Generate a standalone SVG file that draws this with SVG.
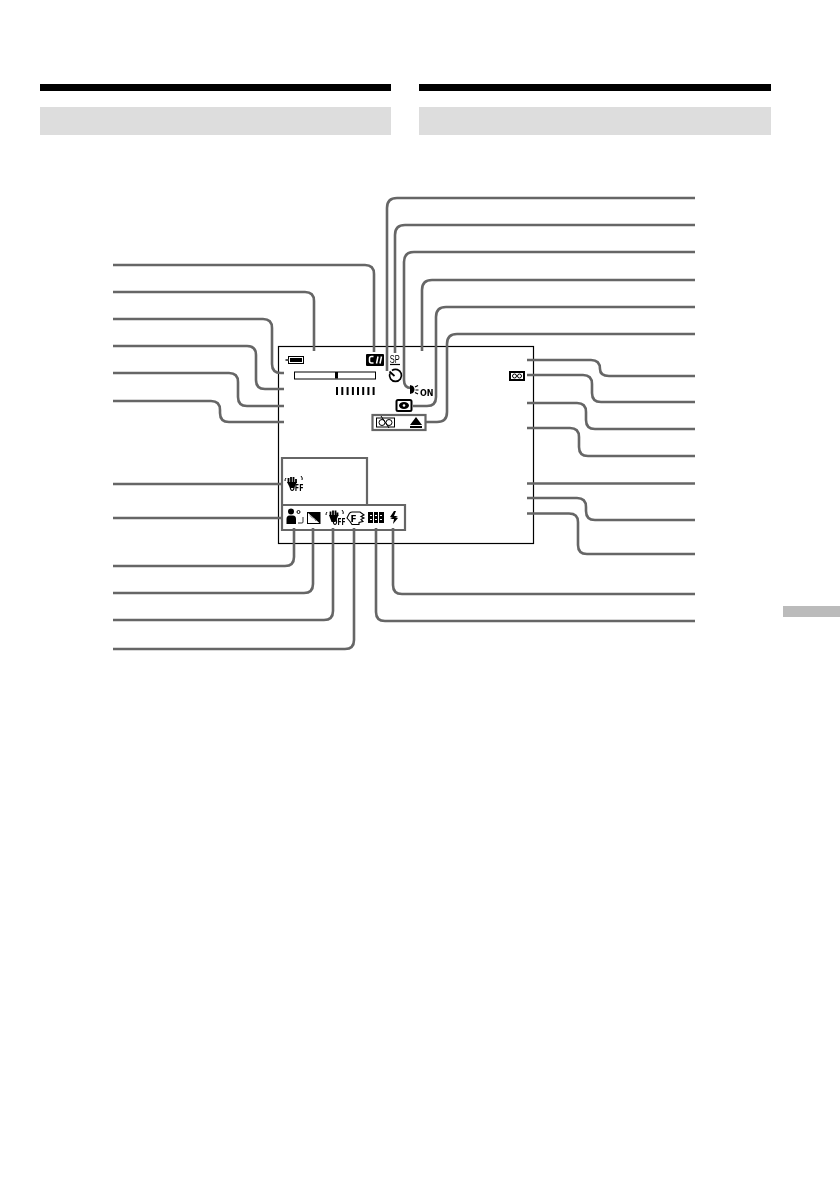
<svg xmlns="http://www.w3.org/2000/svg" width="840" height="1190" viewBox="0 0 840 1190">
<style>
.c{fill:none;stroke:#666;stroke-width:2.6}
.b{fill:none;stroke:#666;stroke-width:2.2}
.t{font-family:"DejaVu Sans","Liberation Sans",sans-serif;font-weight:bold;fill:#000}
.k{fill:none;stroke:#000}
</style>
<defs><filter id="g" x="-20%" y="-20%" width="140%" height="140%"><feOffset dx="0" dy="0"/></filter></defs>
<rect width="840" height="1190" fill="#fff"/>
<g id="header-left"><rect x="40" y="84" width="351" height="7" fill="#000"/><rect x="40" y="107" width="351" height="28" fill="#ddd"/></g>
<g id="header-right"><rect x="419" y="84" width="352" height="7" fill="#000"/><rect x="419" y="107" width="352" height="28" fill="#ddd"/></g>
<g id="side-tab"><rect x="783" y="606" width="57" height="11" fill="#bbb"/></g>
<g id="screen"><rect x="278.500" y="346.500" width="255" height="197" fill="none" stroke="#000" stroke-width="1.200"/></g>
<g id="connectors">
<path class="c" d="M113 265H365Q374 265 374 274V352"/>
<path class="c" d="M113 292H305Q314 292 314 301V351"/>
<path class="c" d="M113 319H263Q272 319 272 328V364Q272 373 281 373H284"/>
<path class="c" d="M113 346H247Q256 346 256 355V380Q256 389 265 389H284"/>
<path class="c" d="M113 373H229Q238 373 238 382V397Q238 406 247 406H284"/>
<path class="c" d="M113 401H211Q220 401 220 410V413Q220 422 229 422H284"/>
<path class="c" d="M113 484H281"/>
<path class="c" d="M113 518H282"/>
<path class="c" d="M113 566H285Q294 566 294 557V528"/>
<path class="c" d="M113 593H304Q313 593 313 584V528"/>
<path class="c" d="M113 620H324Q333 620 333 611V528"/>
<path class="c" d="M113 649H345Q354 649 354 640V528"/>
<path class="c" d="M695 198H397Q387 198 387 208V371"/>
<path class="c" d="M695 225H405Q395 225 395 235V353"/>
<path class="c" d="M695 252H414Q404 252 404 262V380Q404 388 411 388"/>
<path class="c" d="M695 280H432Q422 280 422 290V351"/>
<path class="c" d="M695 307H446Q436 307 436 317V397Q436 406 427 406H413"/>
<path class="c" d="M695 334H457Q447 334 447 344V412Q447 422 437 422H426"/>
<path class="c" d="M527 360H591Q600 360 600 369Q600 376 609 376H695"/>
<path class="c" d="M527 375H583Q592 375 592 384V393Q592 402 601 402H695"/>
<path class="c" d="M527 403H577Q586 403 586 412V420Q586 429 595 429H695"/>
<path class="c" d="M527 428H570Q579 428 579 437V447Q579 456 588 456H695"/>
<path class="c" d="M527 483.500H695"/>
<path class="c" d="M527 498H577Q586 498 586 507V511Q586 520 595 520H695"/>
<path class="c" d="M527 513.500H569Q578 513.500 578 522V545Q578 554 587 554H695"/>
<path class="c" d="M695 594H402Q393 594 393 585V528"/>
<path class="c" d="M695 621H385Q376 621 376 612V528"/>
</g>
<g id="box-top"><rect x="372.500" y="415" width="53" height="15" class="b"/></g>
<g id="box-lower"><path class="b" d="M367 505V458H282V530H405V505H282"/></g>
<g id="battery"><rect x="288.500" y="356.500" width="15" height="7" fill="#fff" stroke="#000"/><rect x="290" y="358" width="12" height="4" fill="#000"/><rect x="285.500" y="359" width="3" height="2" fill="#555"/></g>
<g id="zoom-bar"><rect x="294.500" y="372" width="81" height="7" fill="#fff" stroke="#000"/><rect x="335" y="372" width="3" height="6.500" fill="#000"/></g>
<g id="ticks"><path stroke="#000" stroke-width="2" d="M337 387v8M342.300 387v8M347.600 387v8M352.900 387v8M358 387v8M363.200 387v8M368.400 387v8M373.600 387v8"/></g>
<g id="cinema"><rect x="366" y="354" width="18" height="12" rx="1" fill="#000"/><path d="M373.500 356.500h-2q-2 0-2 2v2.500q0 2 2 2h2M376.500 363.500l1.500-7M380 363.500l1.500-7" fill="none" stroke="#fff" stroke-width="1.500"/></g>
<g id="sp" filter="url(#g)"><text x="394.700" y="362.500" font-size="11" text-anchor="middle" textLength="10" lengthAdjust="spacingAndGlyphs" style="font-family:'Liberation Sans',sans-serif;fill:#000">SP</text><path d="M390 364.500h10" stroke="#000" stroke-width="1.200"/></g>
<g id="timer"><path class="k" stroke-width="1.700" d="M392 370.500A6 6 0 1 1 389.800 373.500M394.500 376l-5-4.500"/></g>
<g id="steady-on" filter="url(#g)"><path d="M410 385v9l3-1q3-3.500 0-7z" fill="#000"/><path d="M415 387l3-1.500M415.500 390h3M415 392.500l3 1.500" stroke="#000" stroke-width="1.200"/><text class="t" x="420" y="395.500" font-size="8">ON</text></g>
<g id="eye"><rect x="396.500" y="400" width="15" height="11" rx="1.500" fill="#fff" stroke="#000" stroke-width="2"/><ellipse cx="404" cy="405.500" rx="5" ry="3.500" fill="#000"/><circle cx="404" cy="405.500" r="1.300" fill="#fff"/></g>
<g id="tape-icon"><rect x="376.500" y="418" width="18" height="9" fill="none" stroke="#000"/><circle cx="382" cy="422.500" r="3" class="k"/><circle cx="389" cy="422.500" r="3" class="k"/><path d="M381 416l8 12" stroke="#000"/></g>
<g id="eject"><path d="M410 425l6-8 6 8z" fill="#000"/><rect x="410" y="426" width="12" height="2" fill="#000"/></g>
<g id="cassette"><rect x="510" y="372" width="14" height="8" fill="#fff" stroke="#000" stroke-width="2"/><circle cx="514.500" cy="376" r="2" class="k"/><circle cx="519.500" cy="376" r="2" class="k"/></g>
<g id="steady-off-a" filter="url(#g)"><path d="M288.500 483v-5M291 483v-6M293.500 483v-6M296 483v-4" stroke="#000" stroke-width="1.800"/><path d="M287 482h10l-3 6h-4z" fill="#000"/><path class="k" d="M286 478q-1 1-1 3M301 476q2 2 1 4"/><text class="t" x="289.500" y="490.500" font-size="8.500" textLength="14" lengthAdjust="spacingAndGlyphs">OFF</text></g>
<g id="portrait"><circle cx="291" cy="511.500" r="3" fill="#000"/><path d="M286.500 524v-5q0-3.500 3-3.500h3.500q3 0 3 3.500v5z" fill="#000"/><circle cx="298.500" cy="512" r="1.500" class="k"/><path class="k" d="M298 523h4q1 0 1-1v-5" stroke-width=".8"/></g>
<g id="exposure"><rect x="307.500" y="512.500" width="12.500" height="11" fill="#fff" stroke="#000"/><path d="M307.500 512.500h12.500v11z" fill="#000"/><path d="M310 515.500l3 3M316 521l-2-3" stroke="#777"/></g>
<g id="steady-off-b" filter="url(#g)"><path d="M330.500 516v-4.500M333 516v-5.500M335.500 516v-5.500M337.500 516v-3.500" stroke="#000" stroke-width="1.800"/><path d="M329 515h9.500l-3 7h-4z" fill="#000"/><path class="k" d="M327 512q-1 1-1 3M342 510q2 2 1 4"/><text class="t" x="332.500" y="524.500" font-size="8.500" textLength="13" lengthAdjust="spacingAndGlyphs">OFF</text></g>
<g id="fade" filter="url(#g)"><path class="k" d="M347 518l2-4q1-2 3-2h8l4 3-3 1.500 3 1.500-3 1.500 2 2-4 1v2h-7l-2-3z" stroke-width="1.100"/><text class="t" x="350.500" y="522" font-size="9">F</text></g>
<g id="grid"><rect x="368" y="512" width="16" height="11" fill="#000"/><path d="M373.500 512v11M378.500 512v11" stroke="#fff" stroke-width="1"/><path d="M370 515.500h2M375 515.500h2M380 515.500h2M370 519.500h2M375 519.500h2M380 519.500h2" stroke="#fff" stroke-width="1"/></g>
<g id="flash"><path d="M394 511l-4 6h3l-3 1 2 1h2l-1 5 5-6h-3l3-1-2-1h-2l2-5z" fill="#000"/></g>
</svg>
